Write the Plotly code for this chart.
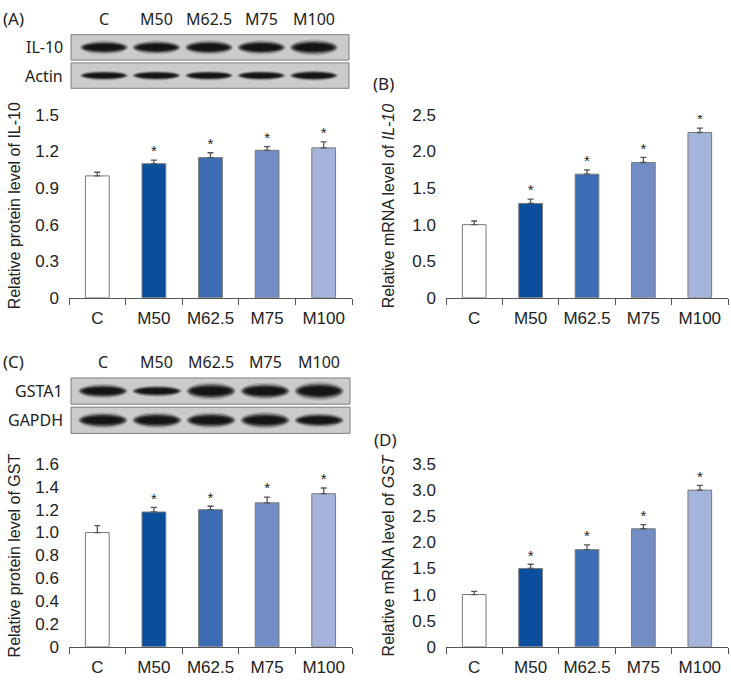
import plotly.graph_objects as go

W, H = 731, 684

groups = ["C", "M50", "M62.5", "M75", "M100"]
bar_colors = ["#ffffff", "#0b4f9c", "#3c6cb4", "#728dc5", "#a5b4dc"]

il10_protein = [1.00, 1.10, 1.15, 1.21, 1.23]
il10_protein_err = [0.03, 0.03, 0.04, 0.03, 0.05]
il10_mrna = [1.00, 1.29, 1.69, 1.85, 2.26]
il10_mrna_err = [0.05, 0.06, 0.06, 0.07, 0.06]
gst_protein = [1.00, 1.18, 1.20, 1.26, 1.34]
gst_protein_err = [0.06, 0.04, 0.03, 0.05, 0.05]
gst_mrna = [1.00, 1.50, 1.86, 2.26, 3.00]
gst_mrna_err = [0.06, 0.08, 0.09, 0.08, 0.09]
significant = [False, True, True, True, True]

# relative band thickness
il10_bands = [1.0, 1.0, 1.05, 1.05, 1.15]
actin_bands = [0.7, 0.7, 0.7, 0.7, 0.75]
gsta1_bands = [1.0, 0.8, 1.2, 1.15, 1.3]
gapdh_bands = [1.1, 1.1, 1.1, 1.15, 1.0]

CHART_FONT = "Liberation Sans, Arial, sans-serif"
BLOT_FONT = "Noto Sans, Open Sans, sans-serif"
TXT = "#222222"


def px_x(p):
    return p / W


def px_y(p):
    return 1 - p / H


def fmt(v):
    return "0" if v == 0 else f"{v:.1f}"


panels = [
    # axis suffix, values, errors, ymax, tick step, title, x px, y px, title x
    ("", il10_protein, il10_protein_err, 1.5, 0.3,
     "Relative protein level of IL-10", (69, 352), (109, 297), 14),
    ("2", il10_mrna, il10_mrna_err, 2.5, 0.5,
     "Relative mRNA level of <i>IL-10</i>", (446, 728), (109, 297), 388),
    ("3", gst_protein, gst_protein_err, 1.6, 0.2,
     "Relative protein level of GST", (69, 352), (468, 656), 14),
    ("4", gst_mrna, gst_mrna_err, 3.5, 0.5,
     "Relative mRNA level of <i>GST</i>", (446, 728), (468, 656), 388),
]

fig = go.Figure()
annotations = []
shapes = []

for suffix, vals, errs, ymax, step, title, xpx, ypx, title_x in panels:
    xa = "x" + suffix
    ya = "y" + suffix
    fig.add_trace(go.Bar(
        x=groups, y=vals, xaxis=xa, yaxis=ya,
        marker=dict(color=bar_colors, line=dict(color="#7a7a7a", width=1)),
        width=0.42,
        error_y=dict(type="data", array=errs, arrayminus=[0] * len(errs),
                     symmetric=False, color="#555555", thickness=1.3, width=3),
        showlegend=False, hoverinfo="x+y",
    ))
    star_x = [g for g, s in zip(groups, significant) if s]
    star_y = [v + e for v, e, s in zip(vals, errs, significant) if s]
    fig.add_trace(go.Scatter(
        x=star_x, y=star_y, xaxis=xa, yaxis=ya, mode="text",
        text=["*"] * len(star_x), textposition="top center",
        textfont=dict(family=CHART_FONT, size=15, color=TXT),
        showlegend=False, hoverinfo="skip",
    ))
    n = int(round(ymax / step))
    tickvals = [round(i * step, 2) for i in range(n + 1)]
    fig.layout["xaxis" + suffix] = dict(
        domain=[px_x(xpx[0]), px_x(xpx[1])], anchor=ya, type="category",
        range=[-0.5, 4.5], showline=True, linecolor="#555555", linewidth=1.2,
        ticks="outside", tickson="boundaries", ticklen=6, tickcolor="#555555",
        ticklabelstandoff=5,
        tickfont=dict(family=CHART_FONT, size=17, color=TXT), showgrid=False,
        fixedrange=True,
    )
    fig.layout["yaxis" + suffix] = dict(
        domain=[px_y(ypx[1]), px_y(ypx[0])], anchor=xa, range=[0, ymax],
        tickvals=tickvals, ticktext=[fmt(v) for v in tickvals],
        showline=False, showgrid=False, zeroline=False, ticks="",
        ticklabelstandoff=9,
        tickfont=dict(family=CHART_FONT, size=17, color=TXT), fixedrange=True,
    )
    annotations.append(dict(
        x=px_x(title_x), y=(px_y(ypx[0]) + px_y(ypx[1])) / 2,
        xref="paper", yref="paper", text=title, textangle=-90,
        showarrow=False, xanchor="center", yanchor="middle",
        font=dict(family=CHART_FONT, size=16, color=TXT),
    ))

# western blots
blots = [
    ("5", ["IL-10", "Actin"], [il10_bands, actin_bands], (71, 349), (25, 83),
     [-0.63, 4.67], 10),
    ("6", ["GSTA1", "GAPDH"], [gsta1_bands, gapdh_bands], (71, 350), (378, 438),
     [-0.59, 4.57], 363),
]

# soft band: stacked ellipses (half width, height factor, opacity)
band_layers = [(0.46, 1.25, 0.18), (0.44, 1.0, 0.35), (0.41, 0.8, 0.55),
               (0.37, 0.6, 0.85), (0.3, 0.4, 1.0)]

for suffix, rows, bands, xpx, ypx, xr, lane_y in blots:
    xa, ya = "x" + suffix, "y" + suffix
    fig.layout["xaxis" + suffix] = dict(
        domain=[px_x(xpx[0]), px_x(xpx[1])], anchor=ya, range=xr,
        visible=False, fixedrange=True)
    fig.layout["yaxis" + suffix] = dict(
        domain=[px_y(ypx[1]), px_y(ypx[0])], anchor=xa, range=[1.5, -0.5],
        visible=False, fixedrange=True)
    for r, (name, strength) in enumerate(zip(rows, bands)):
        shapes.append(dict(
            type="rect", xref=xa + " domain", yref=ya, x0=0, x1=1,
            y0=r - 0.45, y1=r + 0.45, fillcolor="#cbcbcb",
            line=dict(color="#7d7d7d", width=1), layer="below"))
        for i, s in enumerate(strength):
            hh = 0.2 * s
            for hw, hmul, op in band_layers:
                shapes.append(dict(
                    type="circle", xref=xa, yref=ya,
                    x0=i - hw, x1=i + hw, y0=r - hh * hmul, y1=r + hh * hmul,
                    fillcolor="#141414", opacity=op, line=dict(width=0)))
        annotations.append(dict(
            x=px_x(65), y=r, xref="paper", yref=ya, text=name,
            showarrow=False, xanchor="right", yanchor="middle",
            font=dict(family=BLOT_FONT, size=16, color=TXT)))
    for i, g in enumerate(groups):
        annotations.append(dict(
            x=i, y=px_y(lane_y), xref=xa, yref="paper", text=g,
            showarrow=False, xanchor="center", yanchor="middle",
            font=dict(family=BLOT_FONT, size=16, color=TXT)))

for label, xp, yp in [("(A)", 1, 10), ("(B)", 371, 77), ("(C)", 1, 363),
                      ("(D)", 372, 443)]:
    annotations.append(dict(
        x=px_x(xp), y=px_y(yp), xref="paper", yref="paper", text=label,
        showarrow=False, xanchor="left", yanchor="middle",
        font=dict(family=BLOT_FONT, size=17, color=TXT)))

fig.update_layout(
    width=W, height=H, margin=dict(l=0, r=0, t=0, b=0),
    paper_bgcolor="white", plot_bgcolor="white",
    annotations=annotations, shapes=shapes, bargap=0.58,
)

fig.write_html("out.html", config={"displayModeBar": False},
               post_script="document.body.style.margin='0';")
